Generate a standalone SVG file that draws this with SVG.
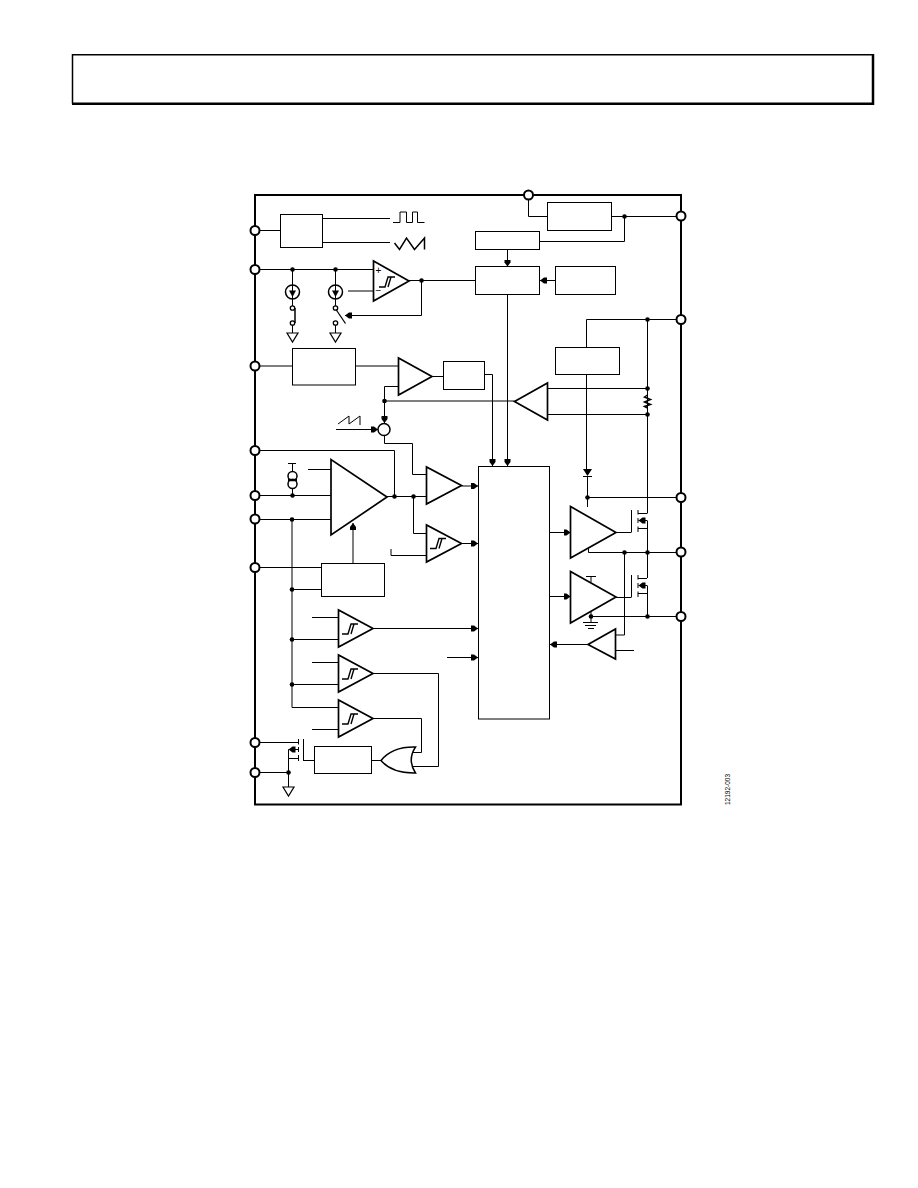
<svg xmlns="http://www.w3.org/2000/svg" width="918" height="1188" viewBox="0 0 918 1188">
<style>
.b{fill:#fff;stroke:#000;stroke-width:1}
.t{fill:#fff;stroke:#000;stroke-width:1.7;stroke-linejoin:miter}
.g{fill:#fff;stroke:#000;stroke-width:1.5}
.w{fill:none;stroke:#000;stroke-width:1}
.p{fill:#fff;stroke:#000;stroke-width:2}
.f{fill:none;stroke:#000;stroke-width:2}
.d{fill:#000;stroke:none}
text{font-family:"Liberation Sans",Arial,sans-serif;fill:#000}
</style>
<defs>
<marker id="a" markerUnits="userSpaceOnUse" markerWidth="9" markerHeight="8" refX="7" refY="4" orient="auto"><path d="M0 1H3L7 4L3 7H0z" fill="#000"/></marker>
<path id="h" d="M-8 5H-2L1 -5H8M1 5L4 -5" fill="none" stroke="#000" stroke-width="1.400"/>
<circle id="o" r="2.300" fill="#000"/>
<circle id="s" r="2.200" fill="#fff" stroke="#000" stroke-width="1.300"/>
<path id="gnd" d="M-5.500 0H5.500L0 9z" fill="#fff" stroke="#000" stroke-width="1.200"/>
<path id="fet" d="M0 -22V0M6.500 -22V-17.500M6.500 -14V-9M6.500 -5.500V0M6.500 -18.500H15.500M6.500 -3.500H15.500" fill="none" stroke="#000" stroke-width="1"/>
</defs>
<path d="M72.500 103.500V54.700H873" fill="none" stroke="#000" stroke-width="1.500"/>
<path d="M72 103.800H873V54" fill="none" stroke="#000" stroke-width="2.500"/>
<rect x="255" y="195" width="426" height="609.500" class="f"/>
<g id="connectors" class="w">
<path d="M255 230.500H280M323 218.500H390M323 242.500H390"/>
<path d="M255 269.500H373.500M292.500 269.500V285M292.500 299V306M292.500 325V333M335.500 269.500V285M335.500 299V306M335.500 325V333M348 291H373"/>
<path d="M409 280.500H476M421.500 280.500V315.500"/>
<path d="M421.500 315.500H345" marker-end="url(#a)"/>
<path d="M255 366H292.500M355.500 366H398.500M432 376.500H443"/>
<path d="M398.500 386.500H384.500V401M384.500 401H514.500"/>
<path d="M384.500 401V423" marker-end="url(#a)"/>
<path d="M336 429.500H378" marker-end="url(#a)"/>
<path d="M485 374.500H492.500V466" marker-end="url(#a)"/>
<path d="M528.500 200V216.500H547.500M611.500 216.500H681M624.500 216.500V241.500H539.500"/>
<path d="M507.500 249.500V266.500" marker-end="url(#a)"/>
<path d="M555.500 280.500H540" marker-end="url(#a)"/>
<path d="M507.500 294.500V466" marker-end="url(#a)"/>
<path d="M681 319.500H586.500V347M647.500 319.500V513.500M547.500 388.500H647.500M547.500 414.500H647.500M647.500 388.500V395M647.500 408V414.500"/>
<path d="M586.500 374.500V469M587.500 476V507M587.500 497.500H681"/>
<path d="M384.500 435V443.500H412.500V474.500H426.500"/>
<path d="M461.500 486H478" marker-end="url(#a)"/>
<path d="M461.500 543.500H478" marker-end="url(#a)"/>
<path d="M391 549V555.500H426.500"/>
<path d="M255 450.500H394.500V496.500M387 496.500H426.500M413.500 496.500V533.500H426.500"/>
<path d="M255 495.500H331M255 519.500H331M308 469.500H331"/>
<path d="M288 463.500H296M292.500 463.500V472M292.500 488V495.500"/>
<path d="M292 519.500V707.500H338.500M292 589.500H321.500M255 567.500H321.500"/>
<path d="M353 563.500V523" marker-end="url(#a)"/>
<path d="M312 617.500H338.500M292 639.500H338.500M312 662.500H338.500M292 684.500H338.500M312 729.500H338.500"/>
<path d="M373 628.500H478" marker-end="url(#a)"/>
<path d="M447 657.500H478" marker-end="url(#a)"/>
<path d="M373 673.500H438.500V766.500H413M373 718.500H421.500V752.500H410M371.500 760.500H381"/>
<path d="M255 742.500H298.500M255 772.500H288.500M288.500 749.500V787M288.500 758.500H298.500M314 760.500H303"/>
<path d="M298.500 749.500H288.500" marker-end="url(#a)"/>
<path d="M549.500 532.500H570.500" marker-end="url(#a)"/>
<path d="M549.500 596.500H570.500" marker-end="url(#a)"/>
<path d="M616 532.500H631.500M616 597.500H631.500"/>
<path d="M647.500 521V578M647.500 586V616.500"/>
<path d="M588.500 546V552.500H681M624.500 552.500V635H615.500"/>
<path d="M586 576.500H596M591 576.500V582M591 612V622M591 616.500H681"/>
<path d="M588 644.500H550" marker-end="url(#a)"/>
<path d="M615.500 650.500H634"/>
<path d="M647.500 520.500H638.500" marker-end="url(#a)"/>
<path d="M647.500 585.500H638.500" marker-end="url(#a)"/>
</g>
<g id="dots">
<use href="#o" x="292.500" y="269.500"/><use href="#o" x="335.500" y="269.500"/><use href="#o" x="421.500" y="280.500"/><use href="#o" x="624.500" y="216.500"/><use href="#o" x="647.500" y="319.500"/><use href="#o" x="647.500" y="388.500"/><use href="#o" x="647.500" y="414.500"/><use href="#o" x="384.500" y="401"/><use href="#o" x="587.500" y="497.500"/><use href="#o" x="394.500" y="496.500"/><use href="#o" x="413.500" y="496.500"/><use href="#o" x="292.500" y="495.500"/><use href="#o" x="292" y="519.500"/><use href="#o" x="292" y="589.500"/><use href="#o" x="292" y="639.500"/><use href="#o" x="292" y="684.500"/><use href="#o" x="288.500" y="772.500"/><use href="#o" x="624.500" y="552.500"/><use href="#o" x="647.500" y="552.500"/><use href="#o" x="647.500" y="616.500"/><use href="#o" x="591" y="616.500"/>
</g>
<g id="osc"><rect class="b" x="280.500" y="214.500" width="42" height="33"/><path class="w" d="M393 222.500H400V212H406.500V222.500H412.500V212H417.500V222.500H424.500"/><path fill="none" stroke="#000" stroke-width="1.500" d="M394.500 243L399.500 249.500L406.500 238L414.500 249.500L424.500 238V249.500"/></g>
<g id="ovp-src"><circle class="g" cx="292.500" cy="292" r="7"/><path class="w" d="M292.500 285V299"/><path class="d" d="M289 290.500H296L292.500 297z"/><use href="#s" x="292.500" y="308"/><use href="#s" x="292.500" y="323"/><path d="M295 308V323" fill="none" stroke="#000" stroke-width="1.500"/><use href="#gnd" x="292.500" y="333"/></g>
<g id="uvp-src"><circle class="g" cx="335.500" cy="292" r="7"/><path class="w" d="M335.500 285V299"/><path class="d" d="M332 290.500H339L335.500 297z"/><use href="#s" x="335.500" y="308"/><use href="#s" x="335.500" y="323"/><path d="M336 309.500L345.500 323.500" fill="none" stroke="#000" stroke-width="1.300"/><use href="#gnd" x="335.500" y="333"/></g>
<g id="en-comp"><path class="t" d="M373.500 261V301L409 281z"/><use href="#h" x="387" y="282"/><text x="378.500" y="274" font-size="10" text-anchor="middle">+</text><text x="378.500" y="294" font-size="10" text-anchor="middle">−</text></g>
<g id="ss-box"><rect class="b" x="292.500" y="348.500" width="63" height="36.500"/></g>
<g id="ea"><path class="t" d="M398.500 358V395L432 376.500z"/></g>
<g id="comp-box"><rect class="b" x="443.500" y="361.500" width="41" height="28"/></g>
<g id="ldo"><rect class="b" x="547.500" y="202.500" width="64" height="28"/></g>
<g id="uvlo"><rect class="b" x="475.500" y="231.500" width="64" height="18"/></g>
<g id="por"><rect class="b" x="475.500" y="266.500" width="64" height="28"/></g>
<g id="tsd"><rect class="b" x="555.500" y="266.500" width="60" height="28"/></g>
<g id="boot"><rect class="b" x="555.500" y="347.500" width="64" height="27"/></g>
<g id="cs"><path class="t" d="M514.500 401.500L547.500 383V420z"/></g>
<path id="rsense" d="M647.500 395L644.500 397L650.500 399.500L644.500 402L650.500 404.500L644.500 406.500L647.500 408" fill="none" stroke="#000" stroke-width="1.500"/>
<g id="sum"><path class="w" d="M338 424L349 416V424L360 416V425"/><circle class="g" cx="384" cy="429.500" r="6"/></g>
<g id="pwm"><path class="t" d="M426.500 467V504L461.500 485.500z"/></g>
<g id="pfm"><path class="t" d="M426.500 525V562L461.500 543.500z"/><use href="#h" x="438" y="543.500"/></g>
<g id="logic"><rect class="b" x="478.500" y="466.500" width="71" height="252.500"/></g>
<g id="amp"><path class="t" d="M331 459.500V535L387 497z"/></g>
<g id="ref"><circle class="g" cx="292.500" cy="476" r="4.500"/><circle class="g" cx="292.500" cy="484" r="4.500"/><path d="M288 480H297" stroke="#000" stroke-width="2.500"/></g>
<g id="fault-box"><rect class="b" x="321.500" y="563.500" width="63" height="33"/></g>
<g id="cmp1"><path class="t" d="M338.500 610V647L373 628.500z"/><use href="#h" x="350" y="629"/></g>
<g id="cmp2"><path class="t" d="M338.500 655V692L373 673.500z"/><use href="#h" x="350" y="674"/></g>
<g id="cmp3"><path class="t" d="M338.500 700V737L373 718.500z"/><use href="#h" x="350" y="719"/></g>
<g id="or"><path class="g" d="M381 760.500Q392 746.500 415.500 747Q407 760 415.500 773Q392 773.500 381 760.500z"/></g>
<g id="latch"><rect class="b" x="314.500" y="746.500" width="57" height="27"/></g>
<g id="pd-fet"><path class="w" d="M303.500 739V761M298.500 739V744.500M298.500 747V752M298.500 755V761"/><use href="#gnd" x="288.500" y="787"/></g>
<g id="diode"><path class="d" d="M583 469H592L587.500 476z"/><path class="w" d="M583 476.500H592"/></g>
<g id="dh"><path class="t" d="M570.500 506.500V558L616 532.500z"/></g>
<g id="dl"><path class="t" d="M570.500 571.500V623L616 597z"/><path class="w" d="M583 622.500H598M585 625.500H596M588 628.500H594"/></g>
<g id="hs-fet"><use href="#fet" x="631.500" y="532"/></g>
<g id="ls-fet"><use href="#fet" x="631.500" y="597"/></g>
<g id="zc"><path class="t" d="M588 644.500L615.500 629V659z"/></g>
<g id="pins">
<circle class="p" cx="255" cy="230.500" r="4.500"/><circle class="p" cx="255" cy="269.500" r="4.500"/><circle class="p" cx="255" cy="366" r="4.500"/><circle class="p" cx="255" cy="450.500" r="4.500"/><circle class="p" cx="255" cy="495.500" r="4.500"/><circle class="p" cx="255" cy="519" r="4.500"/><circle class="p" cx="255" cy="567.500" r="4.500"/><circle class="p" cx="255" cy="742.500" r="4.500"/><circle class="p" cx="255" cy="772.500" r="4.500"/>
<circle class="p" cx="528.500" cy="195" r="4.500"/>
<circle class="p" cx="681" cy="216" r="4.500"/><circle class="p" cx="681" cy="319.500" r="4.500"/><circle class="p" cx="681" cy="497.500" r="4.500"/><circle class="p" cx="681" cy="552" r="4.500"/><circle class="p" cx="681" cy="616.500" r="4.500"/>
</g>
<text transform="translate(729.500 805) rotate(-90)" font-size="6.500">12192-003</text>
</svg>
